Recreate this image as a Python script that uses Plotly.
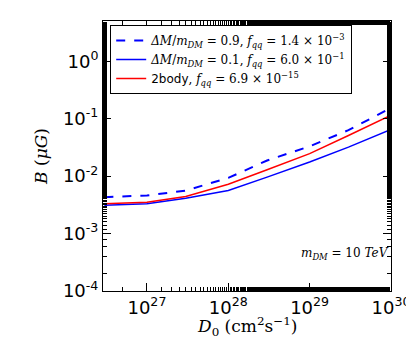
import plotly.graph_objects as go

# -- data
d0 = [3e26, 1e27, 3e27, 1e28, 3e28, 1e29, 3e29, 1e30]
b_dm09 = [4.3e-3, 4.6e-3, 5.6e-3, 9.3e-3, 1.87e-2, 3.3e-2, 6.3e-2, 1.54e-1]
b_dm01 = [3.1e-3, 3.3e-3, 4.1e-3, 5.6e-3, 9.6e-3, 1.76e-2, 3.2e-2, 6.5e-2]
b_2body = [3.3e-3, 3.5e-3, 4.4e-3, 7.2e-3, 1.29e-2, 2.46e-2, 5.1e-2, 1.15e-1]

x_tickvals = [1e27, 1e28, 1e29, 1e30]
x_ticktext = ["10<sup>27</sup>", "10<sup>28</sup>", "10<sup>29</sup>", "10<sup>30</sup>"]
y_tickvals = [1e-4, 1e-3, 1e-2, 1e-1, 1]
y_ticktext = ["10<sup>-4</sup>", "10<sup>-3</sup>", "10<sup>-2</sup>", "10<sup>-1</sup>", "10<sup>0</sup>"]

SERIF = "DejaVu Serif"
SANS = "DejaVu Sans"

fig = go.Figure()

fig.add_trace(go.Scatter(
    x=d0, y=b_dm09, mode="lines",
    line=dict(color="blue", width=2, dash="dash"),
    name="<i>ΔM</i>/<i>m<sub>DM</sub></i> = 0.9, <i>f<sub>qq</sub></i> = 1.4 × 10<sup>−3</sup>",
))
fig.add_trace(go.Scatter(
    x=d0, y=b_dm01, mode="lines",
    line=dict(color="blue", width=1.5),
    name="<i>ΔM</i>/<i>m<sub>DM</sub></i> = 0.1, <i>f<sub>qq</sub></i> = 6.0 × 10<sup>−1</sup>",
))
fig.add_trace(go.Scatter(
    x=d0, y=b_2body, mode="lines",
    line=dict(color="red", width=1.5),
    name="<span style='font-family:DejaVu Sans'>2body</span>, <i>f<sub>qq</sub></i> = 6.9 × 10<sup>−15</sup>",
))

axis_common = dict(
    type="log",
    showgrid=False,
    zeroline=False,
    showline=True,
    linecolor="black",
    linewidth=1,
    mirror="ticks",
    ticks="inside",
    ticklen=8,
    tickwidth=1,
    tickcolor="black",
    minor=dict(ticks="inside", ticklen=4, tickwidth=1, tickcolor="black", showgrid=False),
    tickfont=dict(family=SANS, size=18, color="black"),
)

fig.update_xaxes(
    **axis_common,
    range=[26.46, 30],
    tickvals=x_tickvals,
    ticktext=x_ticktext,
)
fig.update_yaxes(
    **axis_common,
    range=[-4, 0.7],
    tickvals=y_tickvals,
    ticktext=y_ticktext,
    title=dict(
        text="<i>B</i> (<i>μG</i>)",
        font=dict(family=SERIF, size=17, color="black"),
        standoff=10,
    ),
)

# -- x-axis title as an annotation so it sits close under the tick labels
fig.add_annotation(
    x=0.5, y=-0.13, xref="paper", yref="paper",
    xanchor="center", yanchor="middle",
    text="<i>D</i><sub>0</sub> (cm<sup>2</sup>s<sup>−1</sup>)",
    showarrow=False,
    font=dict(family=SERIF, size=17, color="black"),
)

fig.add_annotation(
    x=1, y=0.1, xref="paper", yref="paper",
    xanchor="right", yanchor="bottom",
    text="<i>m<sub>DM</sub></i> = 10 <i>TeV</i>",
    showarrow=False,
    font=dict(family=SERIF, size=12, color="black"),
)

fig.update_layout(
    width=414,
    height=338,
    margin=dict(l=95, r=21, t=13, b=55),
    paper_bgcolor="white",
    plot_bgcolor="white",
    showlegend=True,
    legend=dict(
        x=0.025, y=0.985, xanchor="left", yanchor="top",
        bgcolor="white",
        bordercolor="black",
        borderwidth=1,
        font=dict(family=SERIF, size=12, color="black"),
        tracegroupgap=4,
    ),
)

fig.write_html("out.html")
